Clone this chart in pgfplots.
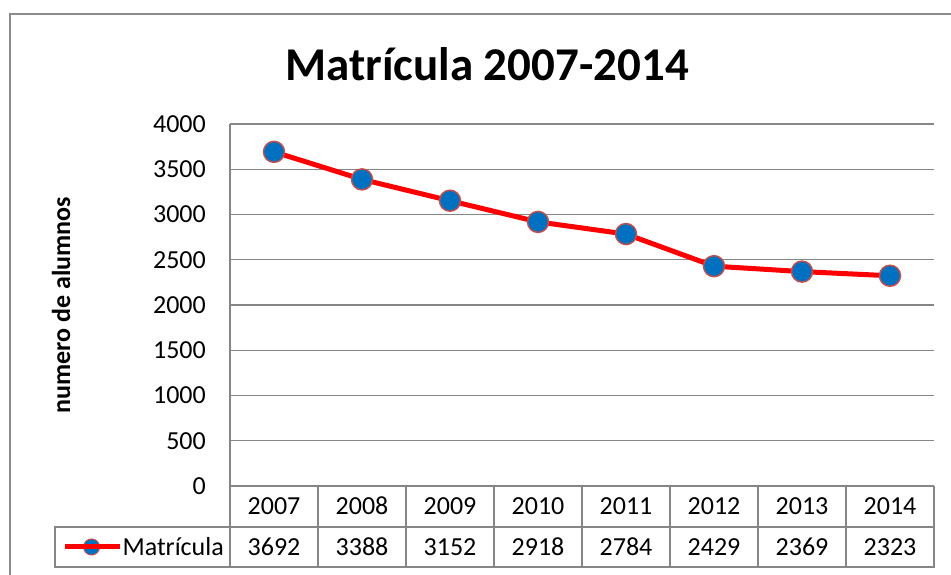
\documentclass[border=0pt]{standalone}
\usepackage{fontspec}
\setmainfont{Carlito}
\usepackage{pgfplots}
\pgfplotsset{compat=1.18}
\definecolor{gridgray}{HTML}{868686}
\definecolor{bordergray}{HTML}{8C8C8C}
\definecolor{mblue}{HTML}{0070C0}
\definecolor{mborder}{HTML}{C0504D}
\definecolor{lred}{HTML}{FF0000}
\newcommand{\tfont}{\fontsize{26}{31}\selectfont}
\begin{document}
\begin{tikzpicture}[x=1pt,y=1pt]
\path[use as bounding box] (0,0) rectangle (951,575);
\draw[color=bordergray, line width=2pt] (10,0) -- (10,561) -- (951,561);
\begin{axis}[
  at={(230pt,89pt)}, anchor=south west,
  scale only axis, width=704pt, height=362pt,
  xmin=-0.5, xmax=7.5, ymin=0, ymax=4000,
  ytick={0,500,...,4000},
  xtick={0,...,7}, xticklabels={2007,2008,2009,2010,2011,2012,2013,2014},
  major tick length=0pt,
  axis line style={draw=none},
  ymajorgrids, major grid style={gridgray, line width=1.2pt},
  /pgf/number format/1000 sep={},
  /pgf/number format/assume math mode=true,
  tick label style={font=\tfont, text=black},
  yticklabel style={anchor=east, inner sep=0pt, xshift=-24pt},
  xticklabel style={anchor=base, inner sep=0pt, yshift=-29pt},
  clip=false,
  title={Matrícula 2007-2014},
  title style={at={(0.365,1.149)}, anchor=center, font=\bfseries\fontsize{47}{53}\selectfont},
  ylabel={numero de alumnos},
  every axis y label/.style={at={(-0.240,0.5)}, rotate=90, anchor=center, font=\bfseries\tfont},
  legend style={at={(-0.0085,-0.1685)}, anchor=east, draw=none, fill=none, inner sep=0pt, font=\tfont,
    nodes={inner sep=0pt}},
  legend image code/.code={
    \draw[mborder, line width=3pt] (0pt,0pt) -- (53pt,0pt);
    \filldraw[fill=mblue, draw=mborder, line width=1pt] (26.5pt,0pt) circle (8pt);
    \path (0pt,0pt) -- (55pt,0pt);
  },
]
\addplot[lred, line width=5pt, mark=*, mark size=10.5pt,
  mark options={fill=mblue, draw=mborder, line width=1.5pt}]
  coordinates {(0,3692) (1,3388) (2,3152) (3,2918) (4,2784) (5,2429) (6,2369) (7,2323)};
\addlegendentry{Matrícula}
\addplot[forget plot, draw=none, mark=none, nodes near coords, point meta=explicit,
  nodes near coords style={anchor=base, inner sep=0pt, font=\tfont, text=black}]
  coordinates {(0,-773) [3692] (1,-773) [3388] (2,-773) [3152] (3,-773) [2918]
               (4,-773) [2784] (5,-773) [2429] (6,-773) [2369] (7,-773) [2323]};
\end{axis}
\draw[gridgray, line width=1.2pt] (55,8) rectangle (934,48);
\foreach \k in {0,...,8} \draw[gridgray, line width=1.2pt] ({230+88*\k},8) -- ({230+88*\k},89);
\draw[gridgray, line width=1.2pt] (230,89) -- (230,451);
\end{tikzpicture}
\end{document}
